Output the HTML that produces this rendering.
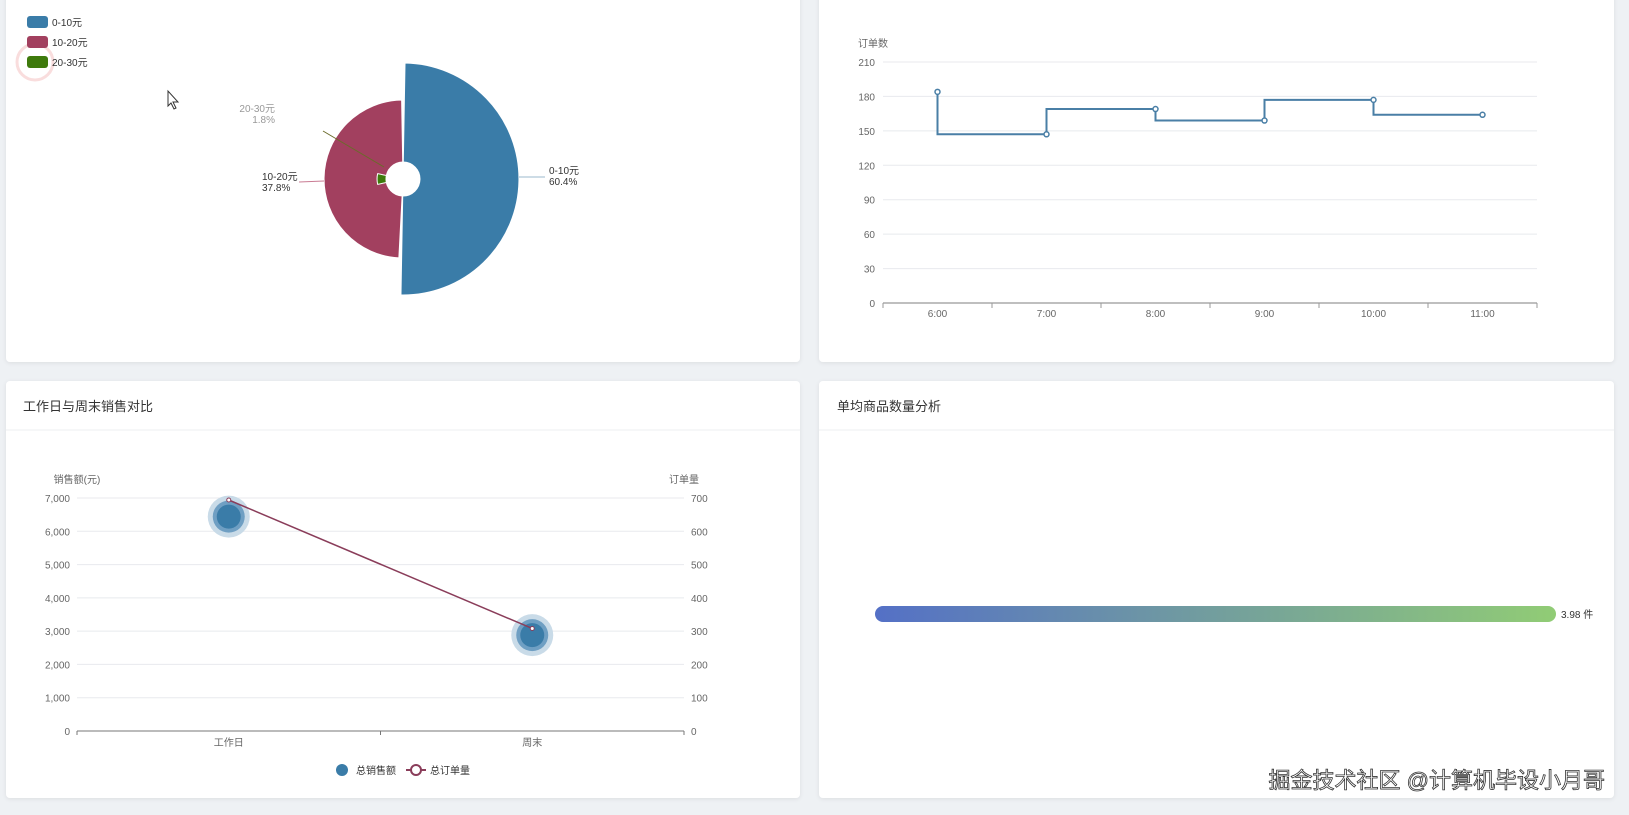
<!DOCTYPE html>
<html><head><meta charset="utf-8">
<style>
html,body{margin:0;padding:0;background:#eef1f4;width:1629px;height:815px;overflow:hidden;font-family:"Liberation Sans","Noto Sans CJK SC",sans-serif;}
svg{position:absolute;left:0;top:0}
</style></head>
<body>
<svg id="s" width="1629" height="815" xmlns="http://www.w3.org/2000/svg" font-family="Liberation Sans, Noto Sans CJK SC, sans-serif">
<defs>
<linearGradient id="g1" x1="0" x2="1" y1="0" y2="0"><stop offset="0" stop-color="#5470c6"/><stop offset="1" stop-color="#91cc75"/></linearGradient>
<filter id="sh" x="-5%" y="-5%" width="110%" height="110%"><feDropShadow dx="0" dy="1" stdDeviation="2" flood-color="#000" flood-opacity="0.08"/></filter>
</defs>
<rect x="6" y="-10" width="794" height="372" rx="4" fill="#fff" filter="url(#sh)"/>
<rect x="819" y="-10" width="795" height="372" rx="4" fill="#fff" filter="url(#sh)"/>
<rect x="6" y="381" width="794" height="417" rx="4" fill="#fff" filter="url(#sh)"/>
<rect x="819" y="381" width="795" height="417" rx="4" fill="#fff" filter="url(#sh)"/>
<line x1="6" x2="800" y1="430" y2="430" stroke="#eceff2"/>
<line x1="819" x2="1614" y1="430" y2="430" stroke="#eceff2"/>
<text x="23" y="411" font-size="13" fill="#333">工作日与周末销售对比</text>
<text x="837" y="411" font-size="13" fill="#333">单均商品数量分析</text>
<g id="pie"></g>
<g id="step"></g>
<g id="combo"></g>
<g id="bar"></g>
<text x="1605" y="788" font-size="22" text-anchor="end" fill="#fff" stroke="#333" stroke-width="0.8">掘金技术社区 @计算机毕设小月哥</text>
</svg>
<script>
const NS="http://www.w3.org/2000/svg";
function mk(p,t,a,txt){const e=document.createElementNS(NS,t);for(const k in a)e.setAttribute(k,a[k]);if(txt!=null)e.textContent=txt;p.appendChild(e);return e;}

/* ---------- PIE (rose) ---------- */
const pieCats=["0-10元","10-20元","20-30元"];
const pieVals=[60.4,37.8,1.8];
const pieColors=["#3a7ca8","#a2405f","#3e7a0c"];
(function(){
 const g=document.getElementById('pie');
 const cx=403,cy=179,r0=17,rMax=116,vmax=Math.max(...pieVals);
 const R=v=>r0+(rMax-r0)*v/vmax;
 const spans=[[1,181],[183,359],[258,282]];
 function P(a,r){const t=(a-90)*Math.PI/180;return [cx+r*Math.cos(t),cy+r*Math.sin(t)];}
 pieVals.forEach((v,i)=>{
  const r=R(v)+ (i==2?6:0),[a0,a1]=spans[i];
  const p1=P(a0,r0),p2=P(a0,r),p3=P(a1,r),p4=P(a1,r0);const lg=(a1-a0)>180?1:0;
  const path=mk(g,'path',{d:`M${p1}L${p2}A${r},${r} 0 ${lg} 1 ${p3}L${p4}A${r0},${r0} 0 ${lg} 0 ${p1}Z`,fill:pieColors[i],stroke:'#fff','stroke-width':1,'stroke-linejoin':'round'});
  
  
 });
 const b=R(pieVals[0]),rr=R(pieVals[1]);
 mk(g,'line',{x1:cx+b,y1:177,x2:cx+b+26,y2:177,stroke:'#9bb8cc'});
 let t=mk(g,'text',{x:cx+b+30,y:174,'font-size':10,fill:'#333'});t.innerHTML=`<tspan x="${cx+b+30}">${pieCats[0]}</tspan><tspan x="${cx+b+30}" dy="11">${pieVals[0]}%</tspan>`;
 
 
 mk(g,'line',{x1:cx-rr,y1:181,x2:cx-rr-25,y2:182,stroke:'#c97b93'});
 t=mk(g,'text',{x:262,y:180,'font-size':10,fill:'#333'});t.innerHTML=`<tspan x="262">${pieCats[1]}</tspan><tspan x="262" dy="11">${pieVals[1]}%</tspan>`;
 
 
 mk(g,'line',{x1:323,y1:131,x2:384,y2:167,stroke:'#6b6b2a'});
 t=mk(g,'text',{x:275,y:112,'font-size':10,fill:'#999','text-anchor':'end'});t.innerHTML=`<tspan x="275">${pieCats[2]}</tspan><tspan x="275" dy="11">${pieVals[2]}%</tspan>`;
 
 
 mk(g,'circle',{cx:35,cy:62,r:18,fill:'none',stroke:'#f5c6c6','stroke-width':3,opacity:0.6});
 pieCats.forEach((c,i)=>{
  const it=mk(g,'g',{});
  
  
  mk(it,'rect',{x:27,y:16+i*20,width:21,height:12,rx:3,fill:pieColors[i]});
  mk(it,'text',{x:52,y:26+i*20,'font-size':10,fill:'#333'},c);
 });
 mk(g,'path',{d:'M168,91 L168,106 L171,103 L174,109 L176,108 L173,102 L178,102 Z',fill:'#fff',stroke:'#333','stroke-width':1});
})();

/* ---------- STEP LINE ---------- */
const hours=["6:00","7:00","8:00","9:00","10:00","11:00"];
const orders=[184,147,169,159,177,164];
const stepTicks=[0,30,60,90,120,150,180,210];
(function(){
 const g=document.getElementById('step');
 const L=883,Rr=1537,T=62,B=303,max=210;
 const y=v=>B-(B-T)*v/max, bw=(Rr-L)/hours.length, x=i=>L+bw*(i+0.5);
 stepTicks.forEach(v=>{
  if(v>0)mk(g,'line',{x1:L,x2:Rr,y1:y(v),y2:y(v),stroke:'#e8eaee'});
  const t=mk(g,'text',{x:L-8,y:y(v)+4,'font-size':10,fill:'#666','text-anchor':'end'},v);
  
  
 });
 mk(g,'text',{x:873,y:47,'font-size':10,fill:'#666','text-anchor':'middle'},'订单数');
 mk(g,'line',{x1:L,x2:Rr,y1:B,y2:B,stroke:'#aaa','stroke-width':1.5});
 for(let i=0;i<=hours.length;i++)mk(g,'line',{x1:L+bw*i,x2:L+bw*i,y1:B,y2:B+5,stroke:'#999'});
 hours.forEach((h,i)=>{const t=mk(g,'text',{x:x(i),y:317,'font-size':10,fill:'#666','text-anchor':'middle'},h);
  
  });
 let d=`M${x(0)},${y(orders[0])}`;
 for(let i=1;i<orders.length;i++)d+=`L${x(i-1)},${y(orders[i])}L${x(i)},${y(orders[i])}`;
 const ln=mk(g,'path',{d:d,fill:'none',stroke:'#4a7fa6','stroke-width':2});
 
 
 orders.forEach((v,i)=>{const c=mk(g,'circle',{cx:x(i),cy:y(v),r:2.5,fill:'#fff',stroke:'#4a7fa6','stroke-width':1.5});
  
  });
})();

/* ---------- COMBO ---------- */
const dayCats=["工作日","周末"];
const salesVals=[6440,2880];
const orderVals=[694,308];
const salesTicks=["0","1,000","2,000","3,000","4,000","5,000","6,000","7,000"];
const orderTicks=["0","100","200","300","400","500","600","700"];
(function(){
 const g=document.getElementById('combo');
 const L=77,Rr=684,T=498,B=731;
 const yS=v=>B-(B-T)*v/7000, yO=v=>B-(B-T)*v/700, bw=(Rr-L)/2, x=i=>L+bw*(i+0.5);
 salesTicks.forEach((s,i)=>{const yy=B-(B-T)*i/7;
  if(i>0)mk(g,'line',{x1:L,x2:Rr,y1:yy,y2:yy,stroke:'#e8eaee'});
  mk(g,'text',{x:70,y:yy+4,'font-size':10,fill:'#666','text-anchor':'end'},s);
  mk(g,'text',{x:691,y:yy+4,'font-size':10,fill:'#666'},orderTicks[i]);});
 mk(g,'text',{x:77,y:483,'font-size':10,fill:'#666','text-anchor':'middle'},'销售额(元)');
 mk(g,'text',{x:684,y:483,'font-size':10,fill:'#666','text-anchor':'middle'},'订单量');
 mk(g,'line',{x1:L,x2:Rr,y1:B,y2:B,stroke:'#777'});
 [0,1,2].forEach(i=>mk(g,'line',{x1:L+bw*i,x2:L+bw*i,y1:B,y2:B+4,stroke:'#777'}));
 dayCats.forEach((c,i)=>mk(g,'text',{x:x(i),y:746,'font-size':10,fill:'#666','text-anchor':'middle'},c));
 salesVals.forEach((v,i)=>{const gg=mk(g,'g',{});
  
  
  mk(gg,'circle',{cx:x(i),cy:yS(v),r:21,fill:'#c9dbe8'});
  mk(gg,'circle',{cx:x(i),cy:yS(v),r:16,fill:'#6f9fc3'});
  mk(gg,'circle',{cx:x(i),cy:yS(v),r:12,fill:'#3a7ca8'});});
 const ln=mk(g,'polyline',{points:orderVals.map((v,i)=>x(i)+','+yO(v)).join(' '),fill:'none',stroke:'#8a3d5a','stroke-width':1.5});
 
 
 orderVals.forEach((v,i)=>mk(g,'circle',{cx:x(i),cy:yO(v),r:2,fill:'#fff',stroke:'#8a3d5a'}));
 const lg=mk(g,'g',{});
 
 
 mk(lg,'circle',{cx:342,cy:770,r:6,fill:'#3a7ca8'});
 mk(lg,'text',{x:356,y:774,'font-size':10,fill:'#333'},'总销售额');
 mk(lg,'line',{x1:406,x2:426,y1:770,y2:770,stroke:'#8a3d5a','stroke-width':2});
 mk(lg,'circle',{cx:416,cy:770,r:5,fill:'#fff',stroke:'#8a3d5a','stroke-width':2});
 mk(lg,'text',{x:430,y:774,'font-size':10,fill:'#333'},'总订单量');
})();

/* ---------- GRADIENT BAR ---------- */
const avgItems=[3.98];
(function(){
 const g=document.getElementById('bar');
 const L=875,W=681,max=3.98;
 const w=W*avgItems[0]/max;
 const r=mk(g,'rect',{x:L,y:606,width:w,height:16,rx:8,fill:'url(#g1)'});
 
 
 mk(g,'text',{x:L+w+5,y:618,'font-size':10,fill:'#333'},avgItems[0]+' 件');
})();
</script>
</body></html>
